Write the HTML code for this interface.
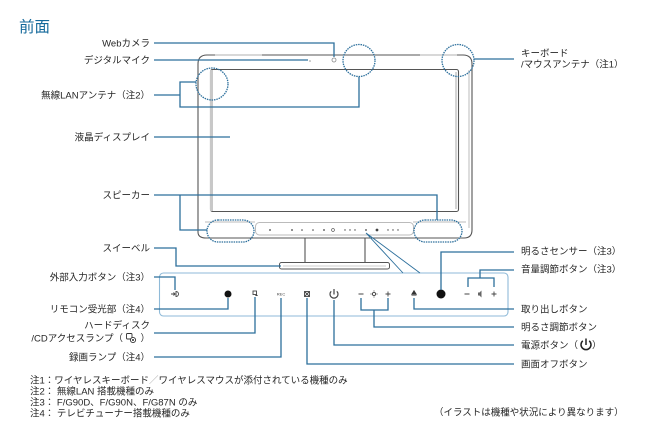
<!DOCTYPE html>
<html><head><meta charset="utf-8"><style>
html,body{margin:0;padding:0;background:#fff;}
svg{display:block;}
text{font-family:"Liberation Sans","Noto Sans CJK JP",sans-serif;font-size:9.5px;fill:#262626;}
.l{fill:none;stroke:#2c6f9c;stroke-width:1.3;}
.g{fill:none;stroke:#555;stroke-width:1.1;}
.lg{fill:none;stroke:#bbb;stroke-width:1;}
.dc{fill:none;stroke:#2c6f9c;stroke-width:1.3;stroke-dasharray:1.5 0.9;}
</style></head><body>
<svg width="650" height="430" viewBox="0 0 650 430" xmlns="http://www.w3.org/2000/svg">
<!-- title -->
<text x="19" y="32" style="font-size:15.5px;fill:#14699b;">前面</text>

<!-- monitor outer frame -->
<path class="g" d="M198,232 L198,64 Q198,55 207,55 L463,55 Q472,55 472,64 L472,230 Q472,238 464,238 L206,238 Q198,238 198,232 Z"/>
<path class="lg" d="M469,70 L469,228"/>
<path d="M215,55 L262,55 M420,55 L457,55" stroke="#ccc" stroke-width="1.5"/>
<!-- screen -->
<rect x="210.5" y="69.5" width="248" height="142" rx="2" class="g" stroke="#999"/>
<path d="M456,72 L456,209" stroke="#aaa" stroke-width="1"/>
<path d="M211.5,70 L211.5,211" stroke="#c8c8c8" stroke-width="3"/>
<!-- bezel -->
<path class="lg" d="M205,222 L255,222 M413,222 L466,222"/>
<rect x="255.5" y="222.5" width="158" height="12.5" rx="4" class="lg" stroke="#aaa"/>
<g fill="#444">
<circle cx="270" cy="230" r="0.9"/><circle cx="292" cy="230" r="0.9"/><circle cx="302" cy="230" r="0.8"/>
<circle cx="313" cy="230" r="0.8"/><circle cx="324" cy="230" r="0.9"/>
<circle cx="345" cy="230" r="0.7"/><circle cx="350" cy="230" r="0.7"/><circle cx="355" cy="230" r="0.7"/>
<circle cx="366" cy="230" r="0.9"/><circle cx="377" cy="230" r="1.4"/>
<circle cx="388" cy="230" r="0.7"/><circle cx="393" cy="230" r="0.7"/><circle cx="398" cy="230" r="0.7"/>
</g>
<circle cx="333" cy="230" r="1.4" fill="none" stroke="#444" stroke-width="0.6"/>
<!-- stand -->
<path class="g" d="M305,238 L305,263 M365,238 L365,263"/>
<rect x="279.5" y="262.5" width="110" height="6.5" rx="2" fill="#fff" stroke="#555"/>
<path d="M283,266 L386,266" stroke="#ccc" stroke-width="1"/>

<!-- speaker ovals -->
<rect x="207" y="220" width="47" height="22" rx="11" class="dc"/>
<rect x="414" y="220" width="48" height="22" rx="11" class="dc"/>
<!-- antenna circles -->
<circle cx="212" cy="84" r="16" class="dc"/>
<circle cx="359" cy="60.5" r="16" class="dc"/>
<circle cx="458" cy="60.5" r="16" class="dc"/>
<!-- camera / mic -->
<circle cx="334" cy="60" r="2" fill="#fff" stroke="#888" stroke-width="0.8"/>
<circle cx="310" cy="61" r="0.8" fill="#999"/>

<!-- panel -->
<rect x="159.5" y="273" width="348.5" height="43" rx="4" fill="none" stroke="#8fbad8" stroke-width="1.1"/>
<path d="M366,233 L403,273 M366,233 L420,273" fill="none" stroke="#2c6f9c" stroke-width="0.9"/>

<!-- panel icons -->
<g stroke="#444" fill="none" stroke-width="0.9">
<path d="M171,294 L175,294 M173.5,292.5 L175,294 L173.5,295.5 M176,291.5 A2.5,2.5 0 0 1 176,296.5 Z"/>
<rect x="253" y="291" width="3.5" height="3.5"/>
<rect x="304.5" y="291.5" width="5" height="5"/>
<path d="M304.5,291.5 L309.5,296.5 M309.5,291.5 L304.5,296.5"/>
<path d="M331.2,291.3 A4,4 0 1 0 336.8,291.3" stroke-width="1.2"/>
<path d="M334,289 L334,294.5" stroke-width="1.2"/>
<path d="M358.5,294 L363.5,294 M385.5,294 L390.5,294 M388,291.5 L388,296.5"/>
<circle cx="374" cy="294" r="1.6"/>
<path d="M374,290.5 L374,291.5 M374,296.5 L374,297.5 M370.5,294 L371.5,294 M376.5,294 L377.5,294"/>
<path d="M464.5,294 L469.5,294 M491.5,294 L496.5,294 M494,291.5 L494,296.5"/>
</g>
<path d="M255,296 l1.5,-2 l1.5,2 z" fill="#444"/>
<text x="281" y="295.5" text-anchor="middle" style="font-size:4px;fill:#444;">REC</text>
<path d="M411.5,294.5 L414,290.5 L416.5,294.5 Z M411.5,295.5 L416.5,295.5" fill="#333" stroke="#333" stroke-width="0.6"/>
<path d="M478,292.5 L479.5,292.5 L481.5,290.5 L481.5,297.5 L479.5,295.5 L478,295.5 Z" fill="#666"/>
<circle cx="228" cy="294" r="3.5" fill="#111"/>
<circle cx="441" cy="294" r="4.5" fill="#111"/>

<!-- leader lines -->
<g class="l">
<path d="M154,43 L334,43 L334,57"/>
<path d="M154,60 L308,60"/>
<path d="M154,95 L180,95 M196,82 L180,82 L180,107 L359,107 L359,77"/>
<path d="M154,137 L230,137"/>
<path d="M154,195 L437,195 L437,220 M180,195 L180,230 L207,230"/>
<path d="M154,248 L176,248 L176,266 L281,266"/>
<path d="M154,277 L175,277 L175,290"/>
<path d="M154,309 L228,309 L228,298"/>
<path d="M154,333 L255,333 L255,297"/>
<path d="M154,357 L281,357 L281,298"/>
<path d="M307,298 L307,364 L514,364"/>
<path d="M334,300 L334,345 L514,345"/>
<path d="M361,298 L361,310 L388,310 L388,298 M374,310 L374,327 L514,327"/>
<path d="M414,298 L414,309 L514,309"/>
<path d="M441,290 L441,252 L514,252"/>
<path d="M468,287 L468,278 L494,278 L494,287 M480,278 L480,270 L514,270"/>
<path d="M474,59 L514,59"/>
</g>

<!-- left labels -->
<g text-anchor="end">
<text x="150" y="46.5">Webカメラ</text>
<text x="150" y="63.5">デジタルマイク</text>
<text x="150" y="98.5">無線LANアンテナ（注2）</text>
<text x="150" y="140.5">液晶ディスプレイ</text>
<text x="150" y="198.5">スピーカー</text>
<text x="150" y="251.5">スイーベル</text>
<text x="150" y="280.5">外部入力ボタン（注3）</text>
<text x="150" y="312.5">リモコン受光部（注4）</text>
<text x="150" y="328.5">ハードディスク</text>
<text x="123" y="341.5">/CDアクセスランプ（</text>
<text x="150" y="341.5">）</text>
<text x="150" y="360.5">録画ランプ（注4）</text>
</g>
<!-- hdd icon in label -->
<g stroke="#333" fill="none" stroke-width="0.9">
<rect x="126.5" y="333.5" width="5.5" height="5.5" rx="1"/>
<circle cx="133" cy="340" r="2.6" fill="#fff"/>
<circle cx="133" cy="340" r="0.6" fill="#333"/>
</g>

<!-- right labels -->
<text x="521" y="56.5">キーボード</text>
<text x="521" y="67.5">/マウスアンテナ（注1）</text>
<text x="521" y="254.5">明るさセンサー（注3）</text>
<text x="521" y="272.5">音量調節ボタン（注3）</text>
<text x="521" y="312.5">取り出しボタン</text>
<text x="521" y="330.5">明るさ調節ボタン</text>
<text x="521" y="348.5">電源ボタン（</text>
<text x="592" y="348.5">）</text>
<g stroke="#222" fill="none" stroke-width="1.5">
<path d="M582.8,340.8 A5,5 0 1 0 589.2,340.8"/>
<path d="M586,338.5 L586,345"/>
</g>
<text x="521" y="367.5">画面オフボタン</text>

<!-- notes -->
<text x="30" y="383.5">注1：ワイヤレスキーボード<tspan style="fill:#aaa">／</tspan>ワイヤレスマウスが添付されている機種のみ</text>
<text x="30" y="394.5">注2： 無線LAN 搭載機種のみ</text>
<text x="30" y="405.5">注3： F/G90D、F/G90N、F/G87N のみ</text>
<text x="30" y="416.5">注4： テレビチューナー搭載機種のみ</text>
<text x="434" y="415.5">（イラストは機種や状況により異なります）</text>
</svg>
</body></html>
